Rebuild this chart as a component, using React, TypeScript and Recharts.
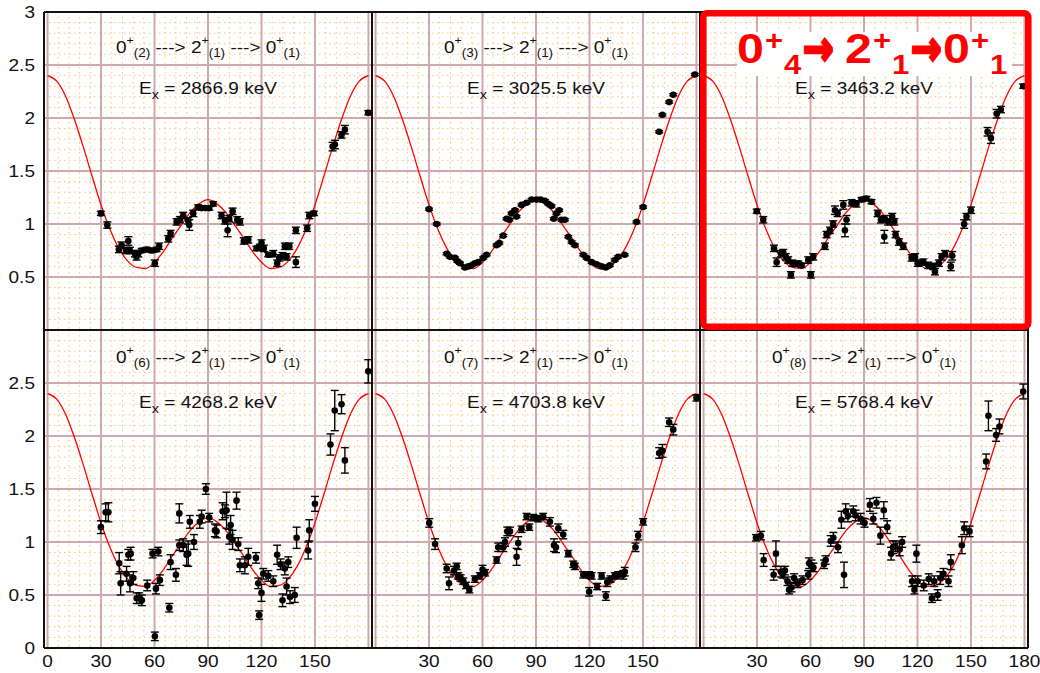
import React from 'react';
import {
  ComposedChart,
  CartesianGrid,
  XAxis,
  YAxis,
  Line,
  Scatter,
  ErrorBar
} from 'recharts';

// fitted W(theta) curve, read every 5 degrees
const curveAngles = [0, 5, 10, 15, 20, 25, 30, 35, 40, 45, 50, 55, 60, 65, 70, 75, 80, 85, 90,
  95, 100, 105, 110, 115, 120, 125, 130, 135, 140, 145, 150, 155, 160, 165, 170, 175, 180];
const curveW = [2.40, 2.35, 2.21, 1.99, 1.73, 1.45, 1.18, 0.95, 0.77, 0.65, 0.59, 0.58, 0.64, 0.74, 0.87, 0.99, 1.11, 1.19, 1.23,
  1.19, 1.11, 0.99, 0.87, 0.74, 0.64, 0.58, 0.59, 0.65, 0.77, 0.95, 1.18, 1.45, 1.73, 1.99, 2.21, 2.35, 2.40];

// grid + ticks
const majorX = [0, 30, 60, 90, 120, 150, 180];
const minorX = [6, 12, 18, 24, 36, 42, 48, 54, 66, 72, 78, 84, 96, 102, 108, 114, 126, 132, 138, 144, 156, 162, 168, 174];
const majorY = [0.5, 1, 1.5, 2, 2.5];
const minorY = [0.1, 0.2, 0.3, 0.4, 0.6, 0.7, 0.8, 0.9, 1.1, 1.2, 1.3, 1.4, 1.6, 1.7, 1.8, 1.9,
  2.1, 2.2, 2.3, 2.4, 2.6, 2.7, 2.8, 2.9];
const topYTicks = [0.5, 1, 1.5, 2, 2.5, 3];
const bottomYTicks = [0, 0.5, 1, 1.5, 2, 2.5];
const leftXTicks = [0, 30, 60, 90, 120, 150];
const midXTicks = [30, 60, 90, 120, 150];
const rightXTicks = [30, 60, 90, 120, 150, 180];

// panel labels
const stateIndex = ['2', '3', '4', '6', '7', '8'];
const energies = ['2866.9', '3025.5', '3463.2', '4268.2', '4703.8', '5768.4'];

// measured points: [angle, W, error]
const state2 = [
  [29.9, 1.10, 0.02], [33.5, 0.99, 0.03], [40.0, 0.76, 0.03], [41.5, 0.80, 0.03], [44.0, 0.75, 0.03], [45.3, 0.84, 0.04],
  [46.2, 0.75, 0.03], [49.0, 0.72, 0.03], [49.9, 0.69, 0.03], [50.9, 0.72, 0.03], [52.8, 0.75, 0.02], [55.6, 0.76, 0.02],
  [58.4, 0.75, 0.02], [60.2, 0.63, 0.03], [61.2, 0.76, 0.02], [62.6, 0.79, 0.03], [67.7, 0.86, 0.03], [69.0, 0.91, 0.03],
  [72.4, 1.02, 0.03], [74.2, 1.04, 0.03], [76.1, 1.08, 0.03], [78.9, 1.03, 0.03], [79.5, 0.99, 0.05], [81.7, 1.10, 0.03],
  [84.5, 1.16, 0.02], [86.4, 1.15, 0.02], [88.6, 1.15, 0.02], [90.7, 1.15, 0.02], [92.9, 1.19, 0.02], [97.6, 1.08, 0.03],
  [99.5, 1.03, 0.03], [101.0, 0.94, 0.06], [101.9, 1.05, 0.03], [103.8, 1.12, 0.03], [106.4, 1.04, 0.03], [107.9, 1.02, 0.03],
  [110.1, 0.84, 0.03], [112.6, 0.85, 0.03], [117.2, 0.77, 0.02], [119.1, 0.78, 0.03], [120.0, 0.82, 0.03], [121.3, 0.77, 0.03],
  [123.8, 0.71, 0.02], [126.6, 0.72, 0.03], [128.8, 0.63, 0.03], [130.0, 0.68, 0.03], [131.8, 0.70, 0.03], [133.1, 0.79, 0.03],
  [134.1, 0.69, 0.03], [135.6, 0.79, 0.03], [139.3, 0.94, 0.03], [139.3, 0.64, 0.05], [145.6, 0.96, 0.03], [146.8, 1.08, 0.03],
  [149.4, 1.10, 0.02], [159.9, 1.73, 0.04], [161.2, 1.75, 0.04], [164.9, 1.84, 0.03], [166.8, 1.89, 0.04], [179.9, 2.05, 0.02]
];
const state3 = [
  [30.0, 1.14, 0.01], [34.3, 1.00, 0.01], [39.9, 0.72, 0.01], [41.7, 0.69, 0.01], [44.5, 0.68, 0.01], [45.8, 0.65, 0.01],
  [47.4, 0.63, 0.01], [50.1, 0.59, 0.01], [52.0, 0.60, 0.01], [53.9, 0.61, 0.01], [55.7, 0.63, 0.01], [57.6, 0.64, 0.01],
  [60.4, 0.68, 0.01], [62.3, 0.71, 0.01], [67.9, 0.80, 0.01], [69.4, 0.82, 0.01], [71.6, 0.89, 0.01], [73.5, 1.05, 0.01],
  [75.0, 1.04, 0.01], [76.3, 1.10, 0.01], [78.2, 1.13, 0.01], [79.1, 1.07, 0.01], [81.9, 1.18, 0.01], [84.7, 1.20, 0.01],
  [87.5, 1.23, 0.01], [90.3, 1.23, 0.01], [92.6, 1.23, 0.01], [95.0, 1.22, 0.01], [96.9, 1.19, 0.01], [98.7, 1.17, 0.01],
  [100.0, 1.05, 0.01], [101.5, 1.10, 0.01], [103.0, 1.13, 0.01], [104.3, 1.04, 0.01], [106.2, 1.04, 0.01], [108.1, 0.88, 0.01],
  [110.0, 0.83, 0.01], [111.8, 0.80, 0.01], [116.5, 0.71, 0.01], [118.4, 0.68, 0.01], [121.2, 0.64, 0.01], [124.0, 0.62, 0.01],
  [126.8, 0.60, 0.01], [129.2, 0.59, 0.01], [131.4, 0.61, 0.01], [134.2, 0.66, 0.01], [136.1, 0.69, 0.01], [139.8, 0.71, 0.01],
  [146.4, 1.02, 0.01], [150.1, 1.16, 0.01], [159.1, 1.87, 0.01], [160.9, 2.03, 0.01], [164.7, 2.15, 0.01], [167.0, 2.22, 0.01],
  [179.1, 2.41, 0.01]
];
const state4 = [
  [29.8, 1.12, 0.02], [33.5, 1.04, 0.03], [39.5, 0.77, 0.03], [41.0, 0.64, 0.04], [43.4, 0.72, 0.03], [44.7, 0.73, 0.03],
  [46.1, 0.69, 0.03], [47.5, 0.66, 0.03], [49.0, 0.52, 0.03], [49.8, 0.63, 0.03], [51.2, 0.62, 0.02], [53.1, 0.63, 0.02],
  [55.0, 0.61, 0.02], [58.7, 0.66, 0.03], [60.2, 0.52, 0.03], [61.5, 0.69, 0.03], [68.1, 0.79, 0.03], [69.0, 0.90, 0.03],
  [70.9, 0.94, 0.03], [72.7, 1.00, 0.03], [73.7, 1.13, 0.04], [75.2, 1.10, 0.03], [78.4, 1.18, 0.04], [79.3, 0.94, 0.06],
  [80.2, 1.04, 0.04], [83.0, 1.20, 0.03], [85.8, 1.19, 0.03], [88.6, 1.23, 0.02], [91.4, 1.24, 0.02], [94.2, 1.21, 0.02],
  [97.6, 1.10, 0.03], [99.5, 1.04, 0.03], [101.4, 0.88, 0.06], [101.7, 1.05, 0.03], [103.6, 1.02, 0.03], [105.8, 1.07, 0.03],
  [107.0, 1.02, 0.03], [107.7, 0.90, 0.03], [109.6, 0.83, 0.03], [112.0, 0.79, 0.03], [116.7, 0.68, 0.03], [118.6, 0.69, 0.03],
  [120.1, 0.63, 0.03], [123.3, 0.64, 0.03], [126.0, 0.61, 0.03], [128.8, 0.60, 0.03], [129.8, 0.55, 0.03], [132.0, 0.63, 0.03],
  [133.5, 0.69, 0.03], [135.4, 0.72, 0.03], [138.7, 0.60, 0.04], [139.5, 0.70, 0.04], [146.2, 1.00, 0.04], [147.5, 1.07, 0.03],
  [150.0, 1.13, 0.03], [159.3, 1.87, 0.04], [161.2, 1.81, 0.05], [164.4, 2.04, 0.04], [166.8, 2.08, 0.03], [179.3, 2.30, 0.02]
];
const state6 = [
  [29.9, 1.14, 0.06], [32.6, 1.28, 0.08], [34.1, 1.28, 0.09], [40.2, 0.80, 0.10], [41.0, 0.61, 0.11], [44.3, 0.70, 0.07],
  [45.3, 0.88, 0.05], [46.6, 0.89, 0.06], [46.2, 0.61, 0.08], [48.1, 0.66, 0.06], [50.0, 0.47, 0.05], [51.4, 0.47, 0.05],
  [52.9, 0.45, 0.05], [55.9, 0.59, 0.05], [58.9, 0.89, 0.04], [60.8, 0.56, 0.05], [60.2, 0.11, 0.04], [62.1, 0.91, 0.04],
  [63.0, 0.64, 0.05], [68.3, 0.38, 0.04], [69.0, 0.81, 0.07], [72.0, 0.69, 0.06], [73.9, 1.27, 0.09], [73.9, 0.97, 0.05],
  [76.1, 0.97, 0.06], [78.0, 0.88, 0.10], [78.9, 0.89, 0.12], [79.8, 1.19, 0.06], [82.1, 1.00, 0.07], [85.4, 1.19, 0.06],
  [86.4, 1.24, 0.06], [88.8, 1.50, 0.05], [90.7, 1.23, 0.04], [93.9, 1.11, 0.06], [94.8, 1.10, 0.06], [98.2, 1.29, 0.08],
  [99.5, 1.29, 0.06], [100.4, 1.30, 0.17], [101.9, 1.05, 0.07], [102.7, 1.16, 0.09], [103.8, 1.02, 0.09], [106.0, 1.39, 0.08],
  [107.0, 0.98, 0.06], [107.9, 0.78, 0.06], [110.7, 0.78, 0.08], [112.6, 0.86, 0.08], [116.9, 0.85, 0.05], [118.2, 0.61, 0.05],
  [118.7, 0.31, 0.04], [120.0, 0.52, 0.08], [121.0, 0.70, 0.05], [123.8, 0.68, 0.05], [126.6, 0.63, 0.05], [128.8, 0.88, 0.09],
  [130.7, 0.79, 0.05], [131.8, 0.45, 0.06], [133.1, 0.75, 0.06], [134.1, 0.58, 0.08], [135.0, 0.81, 0.05], [136.0, 0.48, 0.06],
  [138.7, 0.50, 0.07], [139.7, 1.04, 0.10], [146.2, 0.92, 0.08], [146.8, 1.11, 0.10], [150.0, 1.36, 0.07], [158.7, 1.92, 0.10],
  [161.1, 2.24, 0.19], [164.9, 2.30, 0.09], [166.8, 1.77, 0.12], [179.9, 2.61, 0.11]
];
const state7 = [
  [30.1, 1.18, 0.04], [33.4, 0.98, 0.05], [39.9, 0.75, 0.04], [41.2, 0.61, 0.06], [44.0, 0.73, 0.04], [45.5, 0.77, 0.03],
  [46.4, 0.68, 0.03], [47.7, 0.66, 0.03], [49.2, 0.63, 0.03], [50.7, 0.59, 0.03], [52.6, 0.55, 0.03], [55.7, 0.65, 0.03],
  [58.5, 0.68, 0.03], [60.0, 0.74, 0.04], [61.4, 0.71, 0.03], [67.9, 0.83, 0.03], [68.8, 0.95, 0.04], [71.6, 0.95, 0.04],
  [72.6, 1.00, 0.04], [73.9, 1.10, 0.04], [75.4, 1.10, 0.04], [79.1, 0.86, 0.08], [80.0, 0.99, 0.06], [81.9, 1.12, 0.03],
  [84.7, 1.24, 0.03], [86.2, 1.14, 0.03], [88.4, 1.23, 0.03], [91.3, 1.22, 0.03], [94.0, 1.24, 0.03], [97.8, 1.19, 0.04],
  [100.1, 0.97, 0.06], [101.2, 0.95, 0.05], [102.5, 1.13, 0.04], [105.3, 1.07, 0.04], [108.1, 0.89, 0.03], [110.9, 0.79, 0.03],
  [111.8, 0.77, 0.03], [116.5, 0.69, 0.03], [119.8, 0.69, 0.03], [119.8, 0.53, 0.04], [121.2, 0.68, 0.03], [124.3, 0.58, 0.03],
  [126.8, 0.68, 0.03], [129.2, 0.49, 0.04], [130.0, 0.62, 0.04], [131.8, 0.65, 0.03], [134.2, 0.68, 0.03], [136.1, 0.69, 0.03],
  [138.9, 0.69, 0.04], [139.8, 0.72, 0.04], [145.8, 0.95, 0.04], [147.3, 1.06, 0.04], [150.1, 1.19, 0.03], [159.1, 1.84, 0.05],
  [160.9, 1.86, 0.06], [164.7, 2.13, 0.04], [167.0, 2.06, 0.05], [180.0, 2.36, 0.03]
];
const state8 = [
  [29.4, 1.04, 0.03], [32.2, 1.06, 0.04], [33.7, 0.83, 0.06], [39.3, 0.69, 0.05], [40.6, 0.89, 0.12], [43.4, 0.72, 0.05],
  [44.3, 0.70, 0.04], [45.6, 0.73, 0.04], [47.1, 0.63, 0.04], [48.0, 0.55, 0.04], [49.3, 0.57, 0.04], [50.8, 0.66, 0.04],
  [52.7, 0.61, 0.04], [55.5, 0.64, 0.04], [58.7, 0.69, 0.04], [59.2, 0.80, 0.05], [60.5, 0.78, 0.05], [61.6, 0.76, 0.04],
  [67.6, 0.79, 0.04], [68.5, 0.83, 0.04], [71.3, 1.01, 0.05], [72.8, 1.04, 0.05], [75.4, 0.95, 0.05], [77.3, 1.21, 0.08],
  [78.8, 0.69, 0.12], [79.7, 1.29, 0.07], [81.0, 1.25, 0.06], [84.0, 1.29, 0.05], [85.3, 1.25, 0.05], [88.1, 1.22, 0.05],
  [90.3, 1.18, 0.04], [93.3, 1.35, 0.06], [95.2, 1.22, 0.05], [97.0, 1.37, 0.05], [99.2, 1.06, 0.08], [101.1, 1.30, 0.08],
  [103.0, 1.14, 0.06], [105.2, 0.89, 0.06], [106.3, 0.95, 0.06], [107.6, 0.96, 0.05], [110.0, 0.93, 0.06], [111.4, 1.00, 0.05],
  [117.0, 0.63, 0.05], [118.3, 0.55, 0.04], [119.4, 0.89, 0.08], [120.1, 0.63, 0.05], [123.5, 0.59, 0.05], [126.3, 0.65, 0.05],
  [128.1, 0.47, 0.04], [129.4, 0.63, 0.05], [131.3, 0.50, 0.05], [132.8, 0.66, 0.06], [134.6, 0.70, 0.05], [137.4, 0.63, 0.05],
  [138.7, 0.81, 0.07], [144.9, 0.97, 0.08], [146.2, 1.13, 0.06], [149.2, 1.10, 0.05], [158.5, 1.76, 0.07], [159.8, 2.19, 0.14],
  [164.1, 2.01, 0.06], [166.0, 2.09, 0.07], [179.3, 2.42, 0.07]
];

const panels = [state2, state3, state4, state6, state7, state8];

const FONT = '"Liberation Sans", Arial, sans-serif';
const STRETCH = 1.12;

const curveData = curveAngles.map((x, i) => ({ x, y: curveW[i] }));

const YTick = (props: any) => {
  const { x, y, payload } = props;
  return (
    <g transform={`translate(${x},${y}) scale(${STRETCH},1)`}>
      <text textAnchor="end" dy="0.355em" fontSize={17} fontFamily={FONT} fill="#111">{payload.value}</text>
    </g>
  );
};

const XTick = (props: any) => {
  const { x, y, payload } = props;
  return (
    <g transform={`translate(${x},${y}) scale(${STRETCH},1)`}>
      <text textAnchor="middle" dy="0.71em" fontSize={17} fontFamily={FONT} fill="#111">{payload.value}</text>
    </g>
  );
};

const Dot = (props: any) => <circle cx={props.cx} cy={props.cy} r={3.3} fill="#000" />;

const Panel = ({ idx }: { idx: number }) => {
  const row = idx < 3 ? 0 : 1;
  const col = idx % 3;
  const showY = col === 0;
  const showX = row === 1;
  const rightPad = showX && col === 2 ? 14 : 0;
  const width = (showY ? 44 : 0) + 328 + rightPad;
  const height = row === 0 ? 330 : 343;
  const data = panels[idx].map(([x, y, e]) => ({ x, y, e }));
  const xTicks = col === 0 ? leftXTicks : col === 1 ? midXTicks : rightXTicks;
  return (
    <div style={{ position: 'absolute', left: [0, 372, 700][col], top: row === 0 ? 0 : 330 }}>
      <ComposedChart
        width={width}
        height={height}
        margin={{ top: row === 0 ? 12 : 0, right: rightPad, bottom: 0, left: 0 }}
      >
        <CartesianGrid horizontalValues={minorY} verticalValues={minorX} stroke="#fcc46e" strokeDasharray="1.5 3.5" />
        <CartesianGrid horizontalValues={majorY} verticalValues={majorX} stroke="#cfa9a9" strokeWidth={2} />
        <XAxis
          type="number"
          dataKey="x"
          domain={[-2, 182]}
          ticks={xTicks}
          interval={0}
          hide={!showX}
          height={25}
          tickLine={false}
          axisLine={false}
          tickSize={0}
          tickMargin={7}
          tick={<XTick />}
          allowDataOverflow
        />
        <YAxis
          type="number"
          domain={[0, 3]}
          ticks={row === 0 ? topYTicks : bottomYTicks}
          interval={0}
          hide={!showY}
          width={44}
          tickLine={false}
          axisLine={false}
          tickSize={0}
          tickMargin={9}
          tick={<YTick />}
          allowDataOverflow
        />
        <Line data={curveData} dataKey="y" type="monotone" stroke="#ff0000" strokeWidth={1.3} dot={false} activeDot={false} isAnimationActive={false} />
        <Scatter data={data} dataKey="y" shape={<Dot />} isAnimationActive={false}>
          <ErrorBar dataKey="e" direction="y" width={4} stroke="#000" strokeWidth={1.4} />
        </Scatter>
      </ComposedChart>
    </div>
  );
};

const Title = ({ cx, y, idx }: { cx: number; y: number; idx: string }) => (
  <g transform={`translate(${cx},${y}) scale(${STRETCH},1)`}>
    <text textAnchor="middle" fontSize={17} fontFamily={FONT} fill="#111" style={{ whiteSpace: 'pre' }}>
      0<tspan fontSize={11} dy={-9}>+</tspan><tspan fontSize={12} dy={13}>({idx})</tspan>
      <tspan dy={-4}>{' ---> 2'}</tspan><tspan fontSize={11} dy={-9}>+</tspan><tspan fontSize={12} dy={13}>(1)</tspan>
      <tspan dy={-4}>{' ---> 0'}</tspan><tspan fontSize={11} dy={-9}>+</tspan><tspan fontSize={12} dy={13}>(1)</tspan>
    </text>
  </g>
);

const Energy = ({ cx, y, e }: { cx: number; y: number; e: string }) => (
  <g transform={`translate(${cx},${y}) scale(${STRETCH},1)`}>
    <text textAnchor="middle" fontSize={17} fontFamily={FONT} fill="#111" style={{ whiteSpace: 'pre' }}>
      E<tspan fontSize={13} dy={5}>x</tspan><tspan dy={-5}>{` = ${e} keV`}</tspan>
    </text>
  </g>
);

const RedPiece = ({ x, y, size, children, family, sx, thick }: any) => (
  <text
    transform={`translate(${x},${y}) scale(${sx || 1.15},1)`}
    fontSize={size}
    fontWeight="bold"
    fontFamily={family || FONT}
    fill="#ff0000"
    stroke={thick ? '#ff0000' : 'none'}
    strokeWidth={thick || 0}
    strokeLinejoin="miter"
  >
    {children}
  </text>
);

const Overlay = () => {
  const centers = [208, 536, 864];
  const arrowFont = '"DejaVu Sans", sans-serif';
  return (
    <svg width={1040} height={673} style={{ position: 'absolute', left: 0, top: 0, pointerEvents: 'none' }}>
      {/* panel frames */}
      <g stroke="#111" strokeWidth={2}>
        {[44, 372, 700, 1028].map(x => <line key={x} x1={x} y1={12} x2={x} y2={648} />)}
        {[12, 330, 648].map(y => <line key={y} x1={44} y1={y} x2={1028} y2={y} />)}
      </g>
      {[0, 1, 3, 4, 5].map(i => (
        <Title key={`t${i}`} cx={centers[i % 3]} y={i < 3 ? 53 : 363} idx={stateIndex[i]} />
      ))}
      {[0, 1, 2, 3, 4, 5].map(i => (
        <Energy key={`e${i}`} cx={centers[i % 3]} y={i < 3 ? 94 : 408} e={energies[i]} />
      ))}
      {/* highlight */}
      <rect x={737} y={32} width={275} height={44} fill="#ffffff" />
      <RedPiece x={737} y={63} size={42}>0</RedPiece>
      <RedPiece x={765} y={50} size={27}>+</RedPiece>
      <RedPiece x={784} y={74} size={27}>4</RedPiece>
      <RedPiece x={803} y={65} size={48} family={arrowFont} sx={0.76} thick={3}>→</RedPiece>
      <RedPiece x={845} y={63} size={42}>2</RedPiece>
      <RedPiece x={873} y={50} size={27}>+</RedPiece>
      <RedPiece x={892} y={74} size={27}>1</RedPiece>
      <RedPiece x={911} y={65} size={48} family={arrowFont} sx={0.76} thick={3}>→</RedPiece>
      <RedPiece x={943} y={63} size={42}>0</RedPiece>
      <RedPiece x={971} y={50} size={27}>+</RedPiece>
      <RedPiece x={990} y={74} size={27}>1</RedPiece>
      <rect x={703.3} y={13.3} width={325} height={313.4} rx={4} fill="none" stroke="#ff0000" strokeWidth={6.6} />
    </svg>
  );
};

export default function App() {
  return (
    <div style={{ position: 'absolute', left: 0, top: 0, width: 1040, height: 673, background: '#fff' }}>
      {[0, 1, 2, 3, 4, 5].map(i => <Panel key={i} idx={i} />)}
      <Overlay />
    </div>
  );
}
